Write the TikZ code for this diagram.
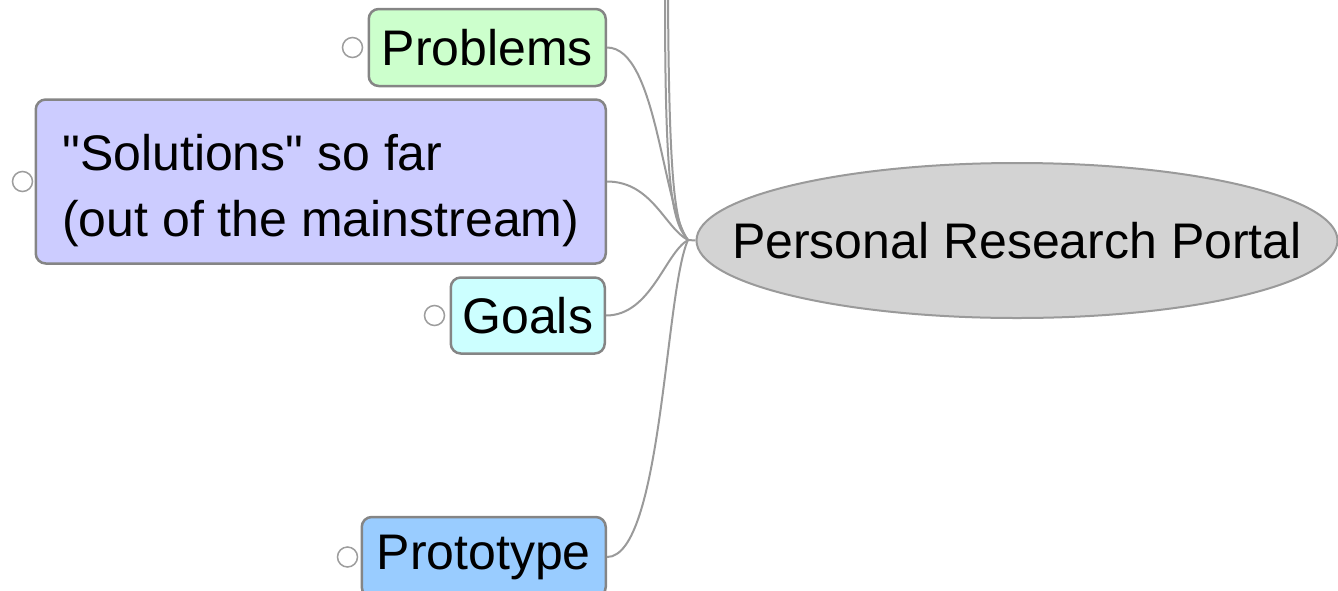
\documentclass[tikz,border=0pt]{standalone}
\usepackage{fontspec}
\setmainfont{Liberation Sans}
\usetikzlibrary{shapes.geometric}

\definecolor{boxgray}{HTML}{858585}
\definecolor{linegray}{HTML}{9A9A9A}
\definecolor{problemgreen}{HTML}{CCFFCC}
\definecolor{solutionblue}{HTML}{CCCCFF}
\definecolor{goalcyan}{HTML}{CCFFFF}
\definecolor{prototypeblue}{HTML}{99CCFF}
\definecolor{portalgray}{HTML}{D3D3D3}

% straight double quote, past the TeX ligature mapping
\newcommand\dquote{\XeTeXglyph\XeTeXcharglyph"22\relax}

\begin{document}
\begin{tikzpicture}[x=1pt, y=-1pt,
    topic/.style={draw=boxgray, line width=2.5pt, rounded corners=10pt, anchor=east,
        inner sep=0pt, align=center, font=\fontsize{50}{66}\selectfont},
    fold/.style={circle, draw=boxgray!80, fill=white, line width=1.5pt, minimum size=20pt, inner sep=0pt},
    branch/.style={draw=linegray, line width=2pt}]
    \useasboundingbox (0,0) rectangle (1338,590);

    % central topic
    \node[ellipse, draw=linegray, line width=2pt, fill=portalgray, minimum width=641pt, minimum height=155pt,
        inner sep=0pt, label={[font=\fontsize{50}{66}\selectfont]center:Personal Research Portal}]
        (portal) at (1017,240.5) {};
    \coordinate (hub) at (688,240);

    % branches on the left
    \node[topic, fill=problemgreen, minimum width=237pt, minimum height=77pt] (problems) at (607,47.5) {Problems};
    \node[topic, fill=solutionblue, minimum width=570pt, minimum height=164pt, align=left]
        (solutions) at (607,181.5) {\rule{0pt}{55pt}\dquote Solutions\dquote{} so far\\(out of the mainstream)};
    \node[topic, fill=goalcyan, minimum width=154pt, minimum height=76pt] (goals) at (606,315.5) {Goals};
    \node[topic, fill=prototypeblue, minimum width=244pt, minimum height=80pt] (prototype) at (607,557) {Prototype};

    % fold markers
    \node[fold] (problems-fold) at ([xshift=-15pt]problems.west) {};
    \node[fold] (solutions-fold) at ([xshift=-12pt]solutions.west) {};
    \node[fold] (goals-fold) at ([xshift=-15pt]goals.west) {};
    \node[fold] (prototype-fold) at ([xshift=-13pt]prototype.west) {};

    % connectors
    \coordinate (upper-a) at (665,-5);
    \coordinate (upper-b) at (668,-5);
    \draw[branch] (hub) -- (portal.west);
    \draw[branch] (problems.east) .. controls +(50,0) and (662,205) .. (hub);
    \draw[branch] (solutions.east) .. controls +(45,0) and (665,228) .. (hub);
    \draw[branch] (goals.east) .. controls +(45,0) and (665,253) .. (hub);
    \draw[branch] (prototype.east) .. controls +(55,0) and (665,290) .. (hub);
    \draw[branch] (upper-a) .. controls (665,190) and (672,222) .. (hub);
    \draw[branch] (upper-b) .. controls (669,195) and (676,226) .. (hub);
\end{tikzpicture}
\end{document}
